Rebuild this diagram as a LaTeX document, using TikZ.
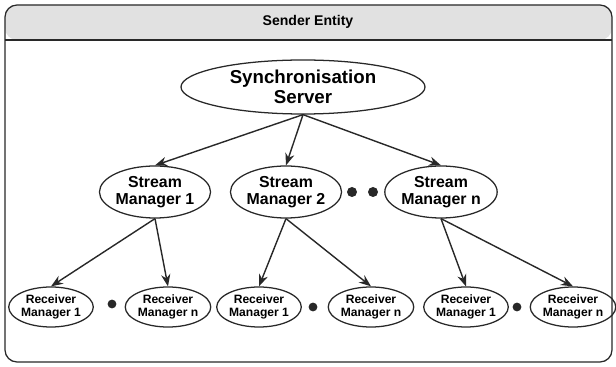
\documentclass[tikz,border=0pt]{standalone}
\usepackage{fontspec}
\setmainfont{Liberation Sans}
\usepackage{tikz}
\usetikzlibrary{shapes.geometric,arrows.meta}
\definecolor{headergray}{RGB}{225,225,225}
\definecolor{framegray}{RGB}{40,40,40}
\tikzset{
  serverell/.style={ellipse,draw=framegray,line width=0.9pt,inner sep=0pt,align=center,minimum width=6.1cm,minimum height=1.35cm,font=\fontsize{13.3}{14.5}\selectfont\bfseries},
  streamell/.style={ellipse,draw=framegray,line width=0.9pt,inner sep=0pt,align=center,minimum width=2.65cm,minimum height=1.3cm,font=\fontsize{11.3}{12.5}\selectfont\bfseries},
  recvell/.style={ellipse,draw=framegray,line width=0.9pt,inner sep=0pt,align=center,minimum width=2.05cm,minimum height=1cm,font=\fontsize{8.6}{9.6}\selectfont\bfseries},
  flow/.style={-{Stealth[length=3mm,width=2.3mm]},line width=1pt,draw=framegray}
}

\begin{document}
\begin{tikzpicture}
\useasboundingbox (0,0) rectangle (15.4,9.175);

% sender entity frame
\fill[headergray,rounded corners=0.3cm] (0.125,8.175) -- (0.125,9.05) -- (15.3,9.05) -- (15.3,8.175) -- cycle;
\draw[framegray,line width=0.9pt,rounded corners=0.3cm] (0.125,0.125) rectangle (15.3,9.05);
\draw[framegray,line width=0.9pt] (0.125,8.175) -- (15.3,8.175);
\node (title) at (7.7,8.625) {\fontsize{10}{12}\selectfont\bfseries Sender Entity};

% synchronisation server
\node[serverell] (sync) at (7.575,7.0) {Synchronisation\\Server};

% stream managers
\node[streamell] (sm1) at (3.875,4.375) {Stream\\Manager 1};
\node[streamell] (sm2) at (7.15,4.375) {Stream\\Manager 2};
\node[streamell] (smn) at (11.025,4.375) {Stream\\Manager n};
\fill[framegray] (8.8,4.375) circle (0.125);
\fill[framegray] (9.325,4.375) circle (0.125);

% receiver managers
\node[recvell] (rm11) at (1.275,1.5) {Receiver\\Manager 1};
\node[recvell] (rm1n) at (4.2,1.5) {Receiver\\Manager n};
\node[recvell] (rm21) at (6.475,1.5) {Receiver\\Manager 1};
\node[recvell] (rm2n) at (9.275,1.5) {Receiver\\Manager n};
\node[recvell] (rmn1) at (11.65,1.5) {Receiver\\Manager 1};
\node[recvell] (rmnn) at (14.325,1.5) {Receiver\\Manager n};
\fill[framegray] (2.8,1.575) circle (0.11);
\fill[framegray] (7.825,1.5) circle (0.11);
\fill[framegray] (12.925,1.5) circle (0.11);

% arrows
\draw[flow] (sync.south) -- (sm1.north);
\draw[flow] (sync.south) -- (sm2.north);
\draw[flow] (sync.south) -- (smn.north);
\draw[flow] (sm1.south) -- (rm11.north);
\draw[flow] (sm1.south) -- (rm1n.north);
\draw[flow] (sm2.south) -- (rm21.north);
\draw[flow] (sm2.south) -- (rm2n.north);
\draw[flow] (smn.south) -- (rmn1.north);
\draw[flow] (smn.south) -- (rmnn.north);

\end{tikzpicture}
\end{document}
